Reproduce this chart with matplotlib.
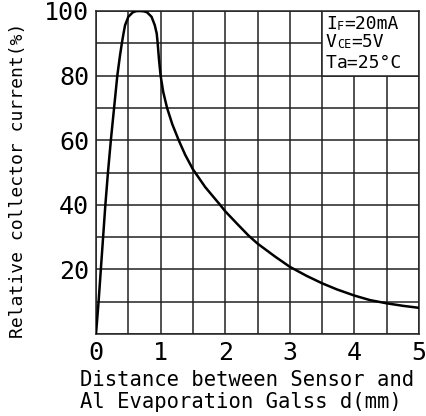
import matplotlib
matplotlib.use('Agg')
import matplotlib.pyplot as plt
from matplotlib.patches import Rectangle

# distance d (mm) vs relative collector current (%)
dist = [0, 0.04, 0.075, 0.11, 0.145, 0.185, 0.23, 0.28, 0.33, 0.37,
        0.40, 0.43, 0.45, 0.50, 0.57, 0.62, 0.68, 0.74, 0.79, 0.86,
        0.91, 0.94, 0.955, 0.975, 1.0, 1.04, 1.10, 1.18, 1.28, 1.38,
        1.5, 1.69, 1.92, 2.0, 2.2, 2.36, 2.5, 2.77, 3.0, 3.26, 3.5,
        3.73, 4.0, 4.24, 4.5, 4.76, 5.0]
rel_current = [0, 10, 20, 30, 40, 50, 60, 70, 80, 86,
               90, 93.5, 95.6, 98.2, 99.6, 99.95, 100, 99.9, 99.6, 98.2,
               95.6, 93, 90, 85, 80, 75, 70, 65, 60, 55.5,
               51, 45.5, 40, 38, 33.8, 30.5, 28, 24, 20.8, 18, 15.7,
               13.8, 11.9, 10.5, 9.5, 8.7, 8.1]

xticks = [0, 1, 2, 3, 4, 5]
yticks = [20, 40, 60, 80, 100]

mono = 'DejaVu Sans Mono'

fig = plt.figure(figsize=(4.26, 4.16), dpi=100)
ax = fig.add_axes([96/426, 1-334/416, 323/426, 323/416])

ax.plot(dist, rel_current, color='black', lw=1.8, zorder=3,
        solid_joinstyle='round')

ax.set_xlim(0, 5)
ax.set_ylim(0, 100)
xgrid = [i*0.5 for i in range(11)]
ygrid = [i*10 for i in range(11)]
ax.set_xticks(xgrid)
ax.set_yticks(ygrid)
ax.grid(True, color='#222222', lw=1.1)
ax.set_axisbelow(True)
ax.set_xticklabels([str(int(v)) if v in xticks else '' for v in xgrid])
ax.set_yticklabels([str(v) if v in yticks else '' for v in ygrid])
ax.tick_params(length=0, labelsize=18, pad=5)
for lab in ax.get_xticklabels() + ax.get_yticklabels():
    lab.set_family(mono)
for s in ax.spines.values():
    s.set_linewidth(1.1)
    s.set_color('#222222')

# condition box
ax.add_patch(Rectangle((3.5, 80), 1.5, 20, facecolor='white',
                       edgecolor='#222222', lw=1.1, zorder=2))

def cond(y, main, sub, rest):
    t = ax.text(3.56, y, main, family=mono, fontsize=13, va='baseline', zorder=4)
    if sub:
        t = ax.annotate(sub, xy=(1, 0), xycoords=t, va='bottom',
                        family=mono, fontsize=8.5, zorder=4)
    ax.annotate(rest, xy=(1, 0), xycoords=t, va='bottom',
                family=mono, fontsize=13, zorder=4)

cond(94.3, 'I', 'F', '=20mA')
cond(88.8, 'V', 'CE', '=5V')
cond(82.3, 'T', '', 'a=25°C')

fig.text(18/426, 1-180/416, 'Relative collector current(%)', rotation=90,
         family=mono, fontsize=13, ha='center', va='center')
fig.text(80/426, 1-391/416, 'Distance between Sensor and\nAl Evaporation Galss d(mm)',
         family=mono, fontsize=14.8, ha='left', va='center', linespacing=1.1)

fig.savefig('out.png', dpi=100)
